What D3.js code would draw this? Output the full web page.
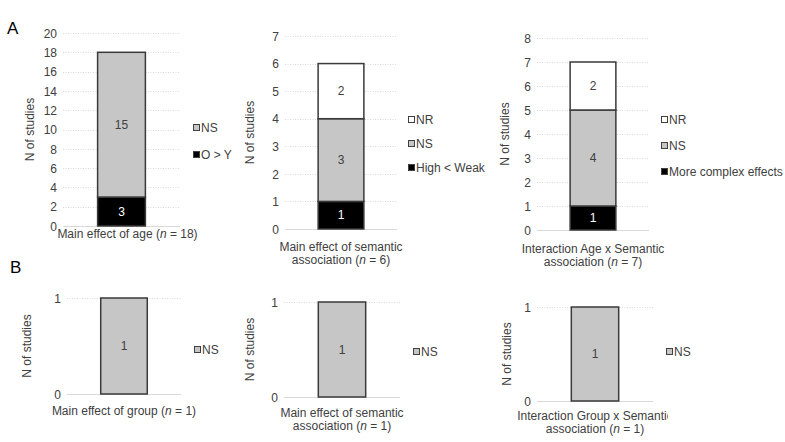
<!DOCTYPE html>
<html>
<head>
<meta charset="utf-8">
<script src="https://cdn.jsdelivr.net/npm/d3@7"></script>
<style>
  body { margin: 0; background: #fff; }
  svg { font-family: "Liberation Sans", Arial, sans-serif; }
  .tick text { font-size: 12px; fill: #404040; }
  .labeltext { font-size: 12px; fill: #404040; }
</style>
</head>
<body>
<script>
/*
 * Six small stacked bars: number of studies per outcome.
 * */

// categories (x labels, one per panel)
var categories = [
  ["Main effect of age (", "n", " = 18)"],
  ["Main effect of semantic", "association (", "n", " = 6)"],
  ["Interaction Age x Semantic", "association (", "n", " = 7)"],
  ["Main effect of group (", "n", " = 1)"],
  ["Main effect of semantic", "association (", "n", " = 1)"],
  ["Interaction Group x Semantic", "association (", "n", " = 1)"]
];

// series names, bottom to top
var seriesAge = ["O > Y", "NS"];
var seriesSem = ["High <  Weak", "NS", "NR"];
var seriesAgeSem = ["More complex effects", "NS", "NR"];
var seriesGroup = ["NS"];

// series values, bottom to top
var valuesAge = [3, 15];
var valuesSem = [1, 3, 2];
var valuesAgeSem = [1, 4, 2];
var valuesGroup = [1];
var valuesGroupSem = [1];
var valuesGroupSemInt = [1];

// y axis maxima and tick steps
var yMax = [20, 7, 8, 1, 1, 1];
var yStep = [2, 1, 1, 1, 1, 1];

var fillOf = { "NS": "#c6c6c6", "NR": "#ffffff" };
function fill(name) { return fillOf[name] || "#000000"; }

var W = 785, H = 442;
var svg = d3.select("body").append("svg")
    .attr("width", W)
    .attr("height", H);

// where each panel sits on the page
var layout = [
  {x0: 63,  x1: 180, y0: 226, y1: 33,  yl: 30,  legX: 193, legY: [155, 128], labY: 238, labDx: 6},
  {x0: 285, x1: 397, y0: 229, y1: 36,  yl: 250, legX: 408, legY: [168, 144, 120], labY: 251},
  {x0: 537, x1: 649, y0: 230, y1: 38,  yl: 505, legX: 661, legY: [172, 146, 120], labY: 253},
  {x0: 67,  x1: 181, y0: 394, y1: 298, yl: 27,  legX: 194, legY: [350], labY: 415},
  {x0: 284, x1: 400, y0: 397, y1: 302, yl: 250, legX: 413, legY: [352], labY: 417},
  {x0: 537, x1: 653, y0: 401, y1: 307, yl: 507, legX: 666, legY: [352], labY: 420, clip: 668}
];

var panels = [
  {series: seriesAge, values: valuesAge},
  {series: seriesSem, values: valuesSem},
  {series: seriesAgeSem, values: valuesAgeSem},
  {series: seriesGroup, values: valuesGroup},
  {series: seriesGroup, values: valuesGroupSem},
  {series: seriesGroup, values: valuesGroupSemInt}
];

function genPanel(i) {
  var L = layout[i], P = panels[i];
  var g = svg.append("g");

  var x = d3.scaleBand().domain([categories[i].join("")])
      .range([L.x0, L.x1]).padding(0.42);
  var y = d3.scaleLinear().domain([0, yMax[i]]).range([L.y0, L.y1]);
  var ticks = d3.range(0, yMax[i] + yStep[i] / 2, yStep[i]);

  // gridlines
  g.selectAll("line.grid")
      .data(ticks)
    .enter().append("line")
      .attr("x1", L.x0).attr("x2", L.x1)
      .attr("y1", function(d) { return Math.round(y(d)) + 0.5; })
      .attr("y2", function(d) { return Math.round(y(d)) + 0.5; })
      .attr("stroke", "#d9d9d9")
      .attr("stroke-width", 1)
      .attr("stroke-dasharray", function(d) { return d === 0 ? null : "1,1.5"; });

  // y axis (labels only)
  var ax = g.append("g")
      .attr("transform", "translate(" + (L.x0 - 6) + ",0)")
      .call(d3.axisLeft(y).tickValues(ticks).tickSize(0).tickPadding(0).tickFormat(d3.format("d")));
  ax.select(".domain").remove();
  ax.selectAll("text").attr("font-family", null).attr("font-size", null).attr("dy", "0.35em");

  // stack
  var stack = [], acc = 0;
  P.values.forEach(function(v, k) {
    stack.push({name: P.series[k], lo: acc, hi: acc + v, v: v});
    acc += v;
  });

  var bx = x(categories[i].join("")), bw = x.bandwidth();
  g.selectAll("rect.seg")
      .data(stack)
    .enter().append("rect")
      .attr("x", bx)
      .attr("width", bw)
      .attr("y", function(d) { return y(d.hi); })
      .attr("height", function(d) { return y(d.lo) - y(d.hi); })
      .attr("fill", function(d) { return fill(d.name); })
      .attr("stroke", "#3a3a3a")
      .attr("stroke-width", 1.5);

  g.selectAll("text.val")
      .data(stack)
    .enter().append("text")
      .attr("x", bx + bw / 2)
      .attr("y", function(d) { return y((d.lo + d.hi) / 2); })
      .attr("dy", "0.35em")
      .style("text-anchor", "middle")
      .style("font-size", "12px")
      .attr("fill", function(d) { return fill(d.name) === "#000000" ? "#ffffff" : "#404040"; })
      .text(function(d) { return d.v; });

  // y label
  svg.append("text")
      .attr("transform", "translate(" + L.yl + "," + ((L.y0 + L.y1) / 2) + ") rotate(-90)")
      .attr("dy", "0.35em")
      .style("text-anchor", "middle")
      .attr("class", "labeltext")
      .text("N of studies");

  // legend
  var leg = g.selectAll("g.leg")
      .data(stack)
    .enter().append("g")
      .attr("transform", function(d, k) { return "translate(" + L.legX + "," + L.legY[k] + ")"; });
  leg.append("rect")
      .attr("x", 0.5).attr("y", -3.5)
      .attr("width", 6).attr("height", 6)
      .attr("fill", function(d) { return fill(d.name); })
      .attr("stroke", "#404040")
      .attr("stroke-width", 1);
  leg.append("text")
      .attr("x", 8)
      .attr("dy", "0.35em")
      .attr("class", "labeltext")
      .text(function(d) { return d.name; });

  // x label (one or two lines, n in italics)
  var c = categories[i];
  var lab = g.append("text")
      .attr("class", "labeltext")
      .style("text-anchor", "middle");
  if (L.clip) {
    svg.append("clipPath").attr("id", "clip" + i)
      .append("rect").attr("x", 0).attr("y", 0).attr("width", L.clip).attr("height", H);
    lab.attr("clip-path", "url(#clip" + i + ")");
  }
  var cx = (L.x0 + L.x1) / 2 + (L.labDx || 0);
  if (c.length === 3) {
    var t = lab.append("tspan").attr("x", cx).attr("y", L.labY);
    t.append("tspan").text(c[0]);
    t.append("tspan").style("font-style", "italic").text(c[1]);
    t.append("tspan").text(c[2]);
  } else {
    lab.append("tspan").attr("x", cx).attr("y", L.labY).text(c[0]);
    var t2 = lab.append("tspan").attr("x", cx).attr("y", L.labY + 13);
    t2.append("tspan").text(c[1]);
    t2.append("tspan").style("font-style", "italic").text(c[2]);
    t2.append("tspan").text(c[3]);
  }
}

for (var i = 0; i < panels.length; i++) genPanel(i);

// panel letters
svg.append("text").attr("x", 7).attr("y", 34).style("font-size", "17px").attr("fill", "#000").text("A");
svg.append("text").attr("x", 10).attr("y", 273).style("font-size", "17px").attr("fill", "#000").text("B");
</script>
</body>
</html>
